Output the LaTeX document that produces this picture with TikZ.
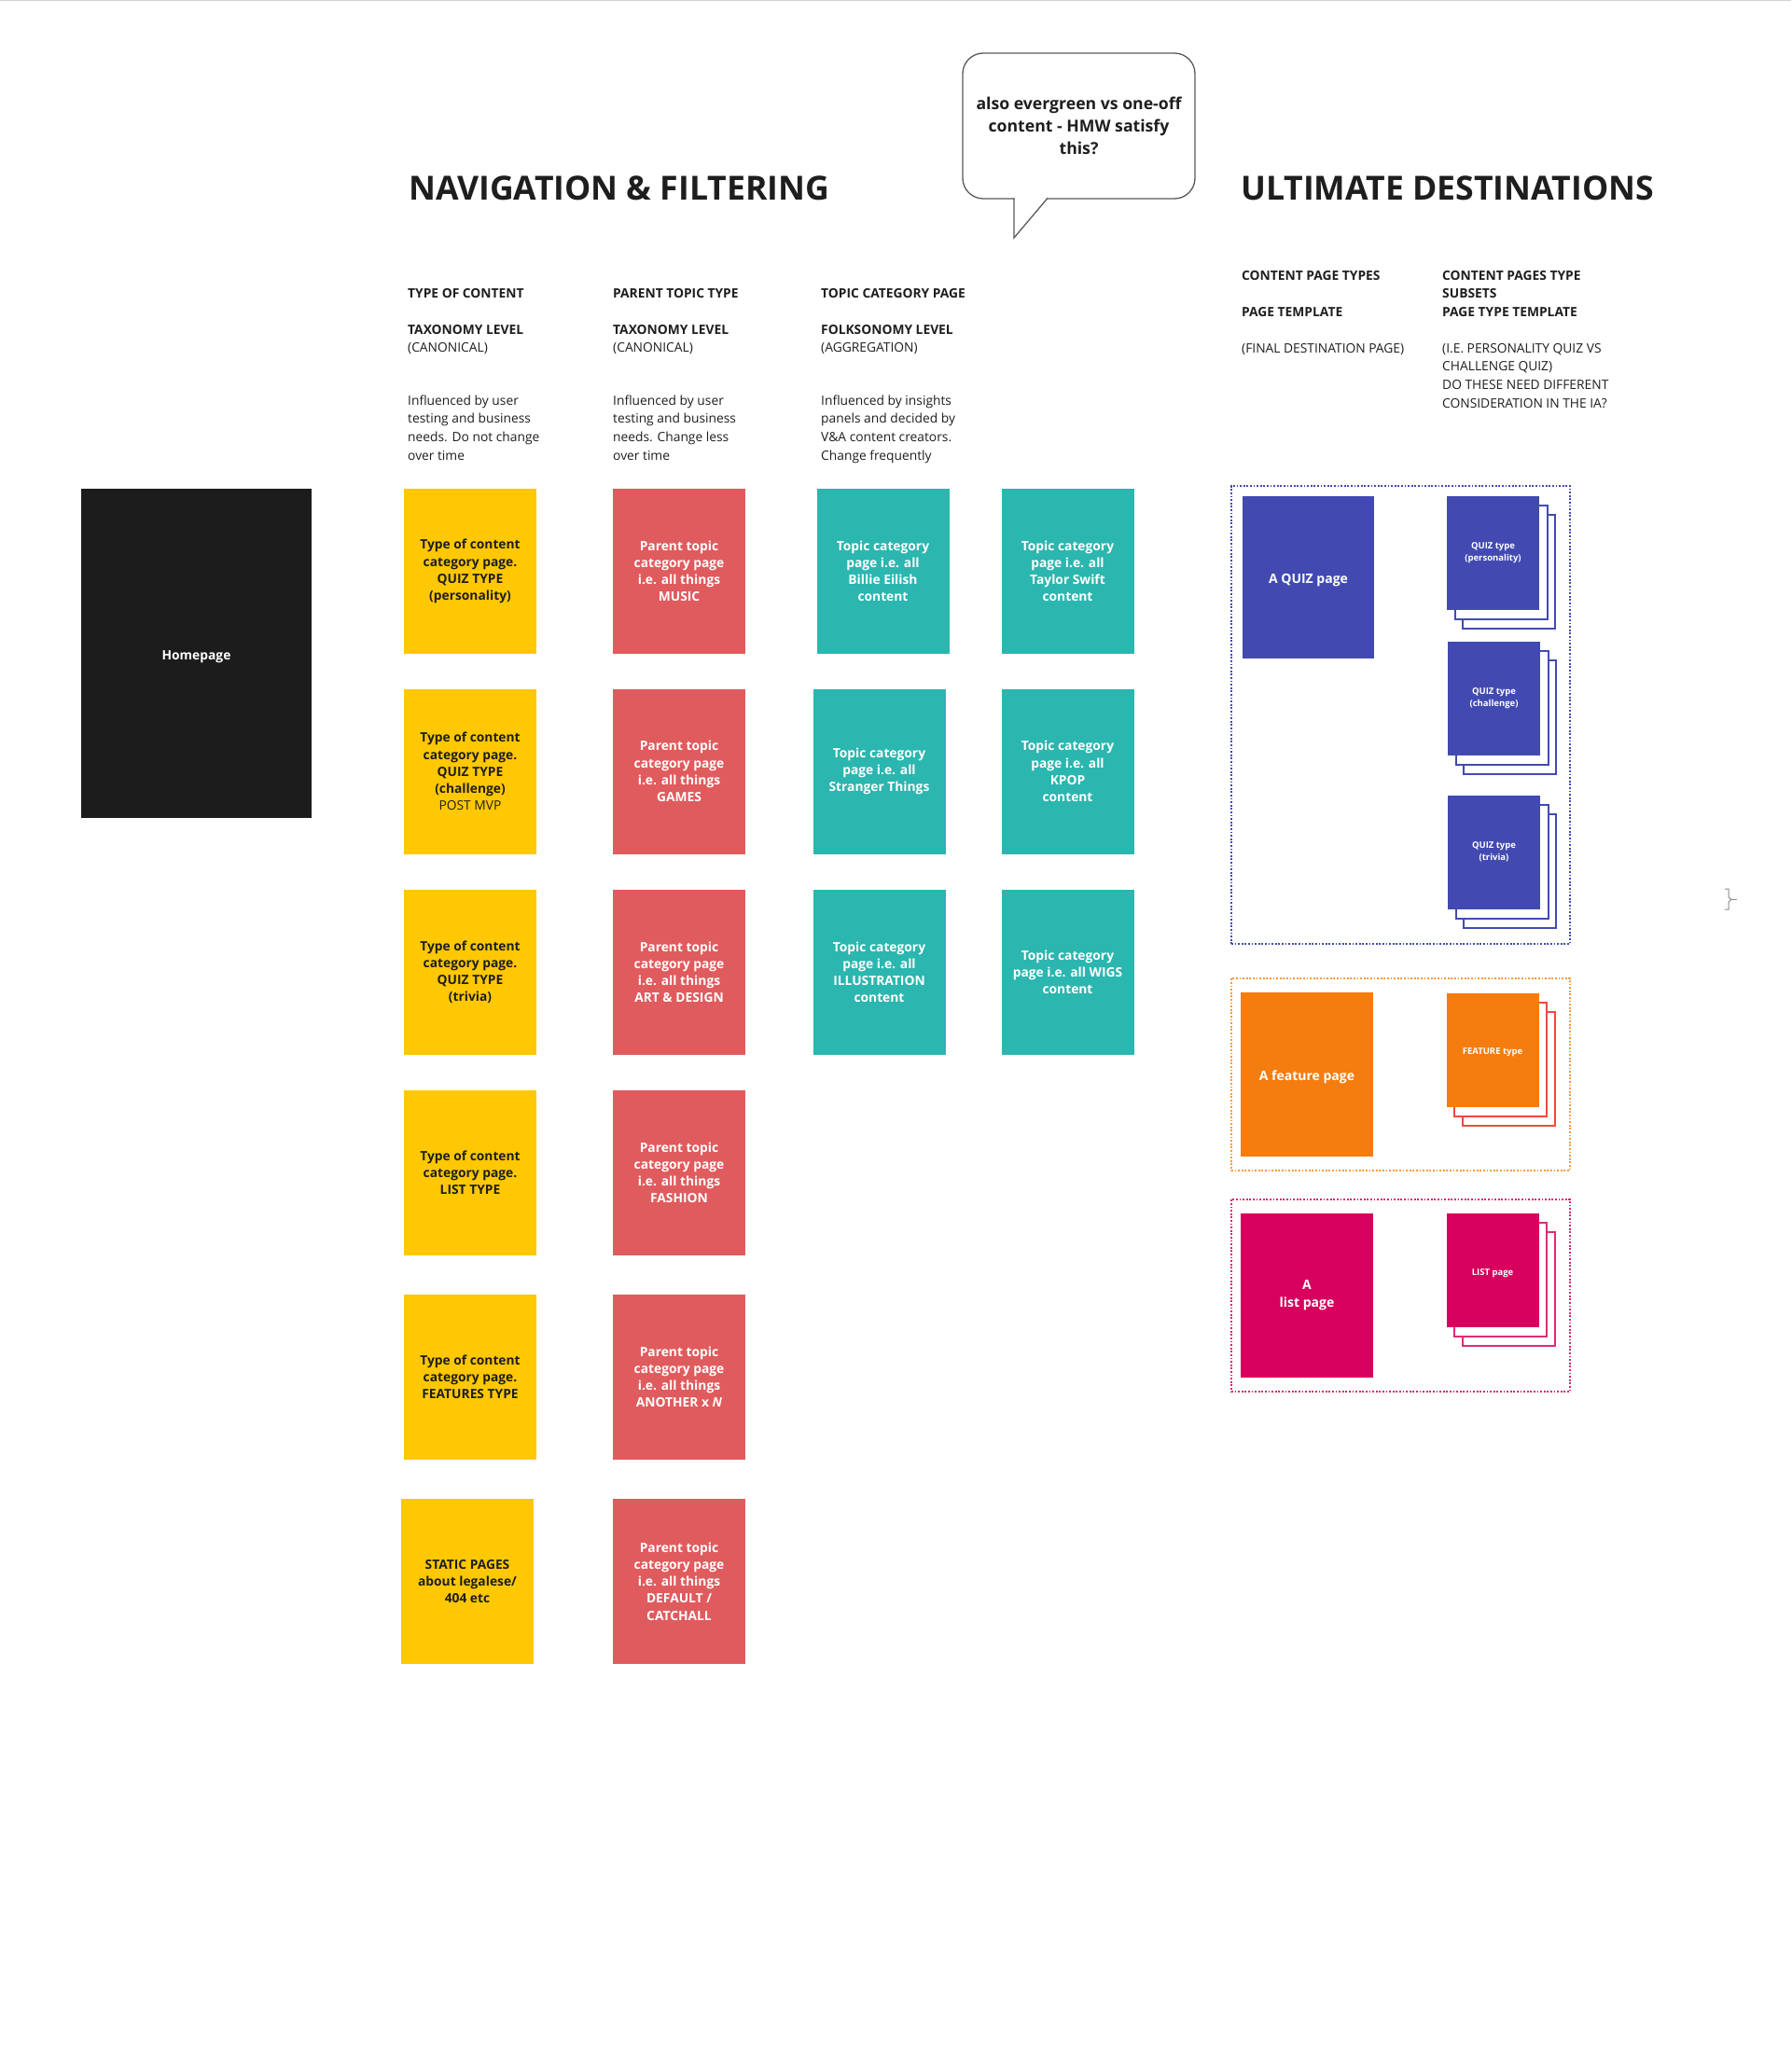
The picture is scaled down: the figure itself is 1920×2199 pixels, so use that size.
\documentclass[tikz,border=0pt]{standalone}
\usepackage{fontspec}
\setmainfont{Open Sans}
\definecolor{cyellow}{HTML}{FFC803}
\definecolor{cred}{HTML}{E05B5D}
\definecolor{cteal}{HTML}{2BB6AF}
\definecolor{cblack}{HTML}{1C1C1C}
\definecolor{cblue}{HTML}{424AB2}
\definecolor{corange}{HTML}{F57C0E}
\definecolor{cmag}{HTML}{D8005E}
\definecolor{cfeatline}{HTML}{EE4B3C}
\definecolor{clistline}{HTML}{DD2C78}
\definecolor{cdotorange}{HTML}{F59B3D}
\definecolor{cdotmag}{HTML}{D8246E}
\definecolor{ctext}{HTML}{1E1E1E}
\definecolor{cbubble}{HTML}{5A5A5A}
\tikzset{
  card/.style={minimum width=142pt, minimum height=177pt, inner sep=0pt, align=center,
    font=\bfseries\fontsize{13.8}{18.2}\selectfont,
    execute at begin node={\rule{0pt}{16.5pt}}},
  ycard/.style={card, fill=cyellow, text=ctext},
  rcard/.style={card, fill=cred, text=white},
  tcard/.style={card, fill=cteal, text=white},
  hdr/.style={anchor=north west, inner sep=0pt, align=left, text=ctext,
    font=\fontsize{13.8}{19.6}\selectfont},
  bigtitle/.style={anchor=base west, inner sep=0pt, text=ctext,
    font=\bfseries\fontsize{35.6}{40}\selectfont},
  dotbox/.style={line width=1.8pt, dash pattern=on 1.8pt off 1.8pt, inner sep=0pt},
  layer/.style={draw=#1, fill=white, line width=2pt, minimum width=99pt,
    minimum height=122pt, inner sep=0pt},
  front/.style={fill=#1, minimum width=99pt, minimum height=122pt, inner sep=0pt,
    align=center, text=white, font=\bfseries\fontsize{9.5}{12.7}\selectfont,
    execute at begin node={\rule{0pt}{13pt}}},
  pagebox/.style={fill=#1, minimum width=142pt, minimum height=176pt, inner sep=0pt,
    align=center, text=white, font=\bfseries\fontsize{14}{18.5}\selectfont,
    execute at begin node={\rule{0pt}{16.5pt}}},
  bubble/.style={draw=cbubble, line width=1.3pt, fill=white, rounded corners=22pt,
    minimum width=249pt, minimum height=156pt, inner sep=0pt, align=center, text=ctext,
    font=\bfseries\fontsize{17.65}{24}\selectfont,
    execute at begin node={\rule{0pt}{15.6pt}}},
}
\begin{document}
\begin{tikzpicture}[x=1pt,y=-1pt]
\fill[white] (0,0) rectangle (1920,2199);
\useasboundingbox (0,0) rectangle (1920,2199);
\draw[black!18, line width=1.5pt] (0,0.75) -- (1920,0.75);

% titles
\node[bigtitle] (navtitle) at (438,215) {NAVIGATION \& FILTERING};
\node[bigtitle] (ulttitle) at (1330,215) {ULTIMATE DESTINATIONS};

% speech bubble
\node[bubble] (bubble) at (1156.5,135) {also evergreen vs one-off\\content - HMW satisfy\\this?};
\fill[white] (1087.7,210) -- (1124.5,210) -- (1087.7,254) -- cycle;
\draw[cbubble, line width=1.3pt, line join=miter] (1087,212.4) -- (1087,255) -- (1123,212.4);

% column headers (left)
\node[hdr] (h1a) at (437,305.8) {\strut\textbf{TYPE OF CONTENT}};
\node[hdr] (h1b) at (437,344.3) {\strut\textbf{TAXONOMY LEVEL}\\(CANONICAL)};
\node[hdr] (h1c) at (437,420.3) {\strut Influenced by user\\testing and business\\needs. Do not change\\over time};
\node[hdr] (h2a) at (657,305.8) {\strut\textbf{PARENT TOPIC TYPE}};
\node[hdr] (h2b) at (657,344.3) {\strut\textbf{TAXONOMY LEVEL}\\(CANONICAL)};
\node[hdr] (h2c) at (657,420.3) {\strut Influenced by user\\testing and business\\needs. Change less\\over time};
\node[hdr] (h3a) at (880,305.8) {\strut\textbf{TOPIC CATEGORY PAGE}};
\node[hdr] (h3b) at (880,344.3) {\strut\textbf{FOLKSONOMY LEVEL}\\(AGGREGATION)};
\node[hdr] (h3c) at (880,420.3) {\strut Influenced by insights\\panels and decided by\\V\&A content creators.\\Change frequently};

% column headers (right)
\node[hdr] (r1a) at (1331,286.3) {\strut\textbf{CONTENT PAGE TYPES}};
\node[hdr] (r1b) at (1331,325.3) {\strut\textbf{PAGE TEMPLATE}};
\node[hdr] (r1c) at (1331,364.3) {\strut(FINAL DESTINATION PAGE)};
\node[hdr] (r2a) at (1546,286.3) {\strut\textbf{CONTENT PAGES TYPE}\\\textbf{SUBSETS}\\\textbf{PAGE TYPE TEMPLATE}};
\node[hdr] (r2b) at (1546,364.3) {\strut(I.E. PERSONALITY QUIZ VS\\CHALLENGE QUIZ)\\DO THESE NEED DIFFERENT\\CONSIDERATION IN THE IA?};

% homepage
\node[card, fill=cblack, minimum width=247pt, minimum height=353pt, text=white] (home) at (210.5,700.5) {Homepage};

% column 1 (yellow)
\node[ycard] (y1) at (504,612.5) {Type of content\\category page.\\QUIZ TYPE\\(personality)};
\node[ycard] (y2) at (504,827) {Type of content\\category page.\\QUIZ TYPE\\(challenge)\\{\mdseries POST MVP}};
\node[ycard] (y3) at (504,1042.5) {Type of content\\category page.\\QUIZ TYPE\\(trivia)};
\node[ycard] (y4) at (504,1257.5) {Type of content\\category page.\\LIST TYPE};
\node[ycard] (y5) at (504,1476.5) {Type of content\\category page.\\FEATURES TYPE};
\node[ycard] (y6) at (501,1695.5) {STATIC PAGES\\about legalese/\\404 etc};

% column 2 (red)
\node[rcard] (p1) at (728,612.5) {Parent topic\\category page\\i.e. all things\\MUSIC};
\node[rcard] (p2) at (728,827) {Parent topic\\category page\\i.e. all things\\GAMES};
\node[rcard] (p3) at (728,1042.5) {Parent topic\\category page\\i.e. all things\\ART \& DESIGN};
\node[rcard] (p4) at (728,1257.5) {Parent topic\\category page\\i.e. all things\\FASHION};
\node[rcard] (p5) at (728,1476.5) {Parent topic\\category page\\i.e. all things\\ANOTHER x \textit{N}};
\node[rcard] (p6) at (728,1695.5) {Parent topic\\category page\\i.e. all things\\DEFAULT /\\CATCHALL};

% column 3 & 4 (teal)
\node[tcard] (t1) at (946.5,612.5) {Topic category\\page i.e. all\\Billie Eilish\\content};
\node[tcard] (t2) at (942.5,827) {Topic category\\page i.e. all\\Stranger Things};
\node[tcard] (t3) at (942.5,1042.5) {Topic category\\page i.e. all\\ILLUSTRATION\\content};
\node[tcard] (u1) at (1144.5,612.5) {Topic category\\page i.e. all\\Taylor Swift\\content};
\node[tcard] (u2) at (1144.5,827) {Topic category\\page i.e. all\\KPOP\\content};
\node[tcard] (u3) at (1144.5,1042.5) {Topic category\\page i.e. all WIGS\\content};

% ultimate destinations: quiz group
\node[dotbox, draw=cblue, minimum width=363pt, minimum height=491pt] (quizgrp) at (1501.5,766.5) {};
\node[pagebox=cblue, minimum width=141pt, minimum height=174pt] (quizpage) at (1402.5,619) {A QUIZ page};
\node[layer=cblue] (qa2) at (1617.5,612.5) {};
\node[layer=cblue] (qa1) at (1609,602.5) {};
\node[front=cblue] (qa) at (1600.5,592.5) {QUIZ type\\(personality)};
\node[layer=cblue] (qb2) at (1618.5,768.5) {};
\node[layer=cblue] (qb1) at (1610,758.5) {};
\node[front=cblue] (qb) at (1601.5,748.5) {QUIZ type\\(challenge)};
\node[layer=cblue] (qc2) at (1618.5,933.5) {};
\node[layer=cblue] (qc1) at (1610,923.5) {};
\node[front=cblue] (qc) at (1601.5,913.5) {QUIZ type\\(trivia)};

% feature group
\node[dotbox, draw=cdotorange, minimum width=363pt, minimum height=206pt] (featgrp) at (1501.5,1152) {};
\node[pagebox=corange] (featpage) at (1401,1152) {A feature page};
\node[layer=cfeatline] (fa2) at (1617,1145.5) {};
\node[layer=cfeatline] (fa1) at (1608.5,1135.5) {};
\node[front=corange] (fa) at (1600,1125.5) {FEATURE type};

% list group
\node[dotbox, draw=cdotmag, minimum width=363pt, minimum height=206pt] (listgrp) at (1501.5,1389) {};
\node[pagebox=cmag] (listpage) at (1401,1388.5) {A\\list page};
\node[layer=clistline] (la2) at (1617,1382) {};
\node[layer=clistline] (la1) at (1608.5,1372) {};
\node[front=cmag] (la) at (1600,1362) {LIST page};

% small bracket mark
\draw[black!45, line width=1pt] (1849,953) -- (1853,953) -- (1853,962) -- (1856,964.5) -- (1853,967) -- (1853,975) -- (1849,975);
\draw[black!45, line width=1pt] (1856,964.5) -- (1862,964.5);
\end{tikzpicture}
\end{document}
